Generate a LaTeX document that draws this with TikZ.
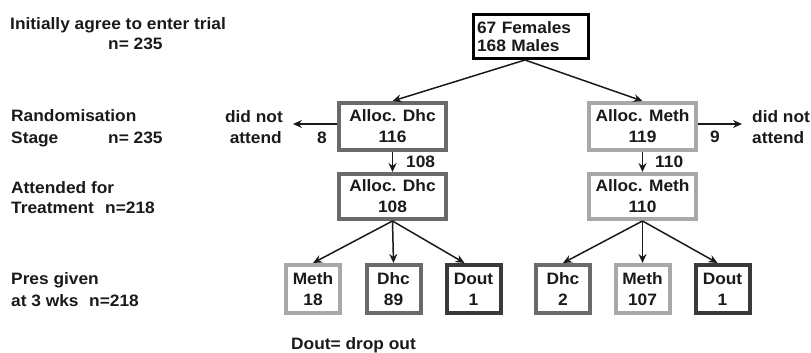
\documentclass[tikz,border=0pt]{standalone}
\usepackage{fontspec}
\setmainfont{Liberation Sans}[FakeStretch=1.05]
\usetikzlibrary{arrows.meta}
\definecolor{lightg}{HTML}{A8A8A8}
\definecolor{midg}{HTML}{6A6A6A}
\definecolor{darkg}{HTML}{3A3A3A}
\definecolor{ink}{HTML}{1A1A1A}
\begin{document}
\begin{tikzpicture}[x=1pt,y=-1pt,
  every node/.style={text=ink, font=\fontsize{16.5}{21}\selectfont\bfseries},
  lbl/.style={anchor=base west, inner sep=0},
  lble/.style={anchor=base east, inner sep=0},
  bx/.style={draw=#1, line width=4pt, fill=white, align=center, inner sep=0, minimum width=107pt, minimum height=47pt},
  sbx/.style={draw=#1, line width=4pt, fill=white, align=center, inner sep=0, minimum width=54pt, minimum height=48pt},
  arr/.style={draw=ink, line width=1.5pt, -{Stealth[length=9pt,width=8pt,inset=3pt]}}]
\useasboundingbox (0,0) rectangle (811,353);

% left-hand stage labels
\node[lbl] (l1a) at (10,30) {Initially agree to enter trial};
\node[lbl] (l1b) at (108,50) {n= 235};
\node[lbl] (l2a) at (11,121) {Randomisation};
\node[lbl] (l2b) at (11,143) {Stage};
\node[lbl] (l2c) at (108,143) {n= 235};
\node[lbl] (l3a) at (11,193) {Attended for};
\node[lbl] (l3b) at (11,213) {Treatment};
\node[lbl] (l3c) at (105,213) {n=218};
\node[lbl] (l4a) at (11,284) {Pres given};
\node[lbl] (l4b) at (11,306) {at 3 wks};
\node[lbl] (l4c) at (89,306) {n=218};
\node[lbl] (note) at (291,349) {Dout= drop out};

% top box
\node[draw=black, line width=3pt, fill=white, align=left, text width=108pt,
      inner xsep=3.5pt, inner ysep=0pt, minimum height=44pt,
      font=\fontsize{16.5}{18.5}\selectfont\bfseries] (top) at (531,36.5) {67 Females\\168 Males};

% randomisation row
\node[bx=midg] (d116) at (392.5,126.5) {Alloc. Dhc\\116};
\node[bx=lightg] (m119) at (642.5,126.5) {Alloc. Meth\\119};

% attended row
\node[bx=midg, minimum height=45pt] (d108) at (392.5,196.5) {Alloc. Dhc\\108};
\node[bx=lightg, minimum height=45pt] (m110) at (642.5,196.5) {Alloc. Meth\\110};

% prescription row
\node[sbx=lightg] (lm) at (313,289) {Meth\\18};
\node[sbx=midg] (ld) at (393.5,289) {Dhc\\89};
\node[sbx=darkg] (lo) at (473.5,289) {Dout\\1};
\node[sbx=midg] (rd) at (563,289) {Dhc\\2};
\node[sbx=lightg] (rm) at (642.5,289) {Meth\\107};
\node[sbx=darkg] (ro) at (722.5,289) {Dout\\1};

% arrows from top
\draw[arr] ([xshift=-6pt]top.south) -- (d116.north);
\draw[arr] ([xshift=-6pt]top.south) -- (m119.north);

% did not attend
\coordinate (lout) at (293,124);
\coordinate (rout) at (742,124);
\draw[arr] (d116.west |- lout) -- (lout);
\draw[arr] (m119.east |- rout) -- (rout);
\node[lble] (dna1) at (283,122) {did not};
\node[lble] (dna2) at (282,143) {attend};
\node[lbl] (n8) at (317,143) {8};
\node[lbl] (dnb1) at (752,122) {did not};
\node[lbl] (dnb2) at (752,143) {attend};
\node[lbl] (n9) at (710,142) {9};

% down arrows
\draw[arr] (d116.south) -- (d108.north);
\draw[arr] (m119.south) -- (m110.north);
\node[lbl] (n108) at (406,167) {108};
\node[lbl] (n110) at (655,167) {110};

% to prescriptions
\draw[arr] (d108.south) -- (lm.north);
\draw[arr] (d108.south) -- (ld.north);
\draw[arr] (d108.south) -- ([xshift=-9pt]lo.north);
\draw[arr] (m110.south) -- (rd.north);
\draw[arr] (m110.south) -- (rm.north);
\draw[arr] (m110.south) -- ([xshift=-5pt]ro.north);
\end{tikzpicture}
\end{document}
